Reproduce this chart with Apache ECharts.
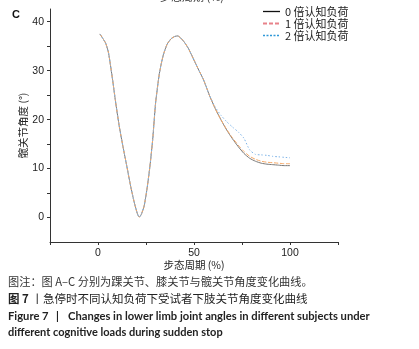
<!DOCTYPE html>
<html>
<head>
<meta charset="utf-8">
<script src="https://cdn.jsdelivr.net/npm/echarts@6/dist/echarts.min.js"></script>
<style>
  html, body { margin: 0; padding: 0; background: #fff; }
  #echart1 { width: 419px; height: 349px; }
</style>
</head>
<body>
<div id="echart1"></div>
<script>
// 步态周期 (%)
var cycle = [1, 2.5, 4, 5.5, 7.5, 9, 11, 13, 15, 17, 19, 20.5, 21.5, 22.5, 24, 25.5, 27, 28.5, 30, 32, 34, 36, 38, 40, 41.5, 43, 45, 47, 49, 52, 55, 58, 61, 64, 67, 70, 73, 76, 79, 82, 85, 88, 91, 94, 97, 100];
// 髋关节角度
var load0 = [37.5, 36.6, 35.6, 33.6, 28.4, 24.1, 18.8, 14.5, 10.5, 6.4, 2.9, 0.8, 0.1, 0.6, 2.3, 5.8, 10.3, 16.0, 23.4, 29.5, 33.2, 35.4, 36.5, 37.0, 37.1, 36.7, 35.8, 34.6, 33.0, 30.5, 28.1, 25.0, 22.3, 20.0, 17.9, 16.1, 14.5, 13.1, 12.1, 11.5, 11.1, 10.9, 10.8, 10.7, 10.6, 10.6];
var load1 = [37.5, 36.6, 35.6, 33.6, 28.4, 24.1, 18.8, 14.5, 10.5, 6.4, 2.9, 0.8, 0.1, 0.6, 2.3, 5.8, 10.3, 16.0, 23.4, 29.5, 33.2, 35.4, 36.5, 37.0, 37.1, 36.7, 35.8, 34.6, 33.0, 30.5, 28.1, 25.0, 22.3, 20.0, 18.0, 16.3, 14.8, 13.5, 12.5, 11.9, 11.5, 11.3, 11.2, 11.1, 11.0, 11.0];
var load2 = [37.5, 36.6, 35.6, 33.6, 28.4, 24.1, 18.8, 14.5, 10.5, 6.4, 2.9, 0.8, 0.1, 0.6, 2.3, 5.8, 10.3, 16.0, 23.4, 29.5, 33.2, 35.4, 36.5, 37.0, 37.1, 36.7, 35.8, 34.6, 33.0, 30.5, 28.1, 25.0, 22.6, 20.9, 19.6, 18.5, 17.5, 16.2, 13.8, 12.9, 12.8, 12.7, 12.5, 12.4, 12.3, 12.2];
var names = ['0 倍认知负荷', '1 倍认知负荷', '2 倍认知负荷'];
var yTicks = [0, 5, 10, 15, 20, 25, 30, 35, 40];
var yLabels = [0, 10, 20, 30, 40];
var xLabels = [0, 50, 100];

function pairs(vals) {
    return cycle.map(function (x, i) { return [x, vals[i]]; });
}

var myChart = echarts.init(document.getElementById('echart1'));
var cjk = '"Noto Sans CJK SC", sans-serif';
var lat = '"Liberation Sans", Arial, sans-serif';

option = {
    animation: false,
    grid: { left: 50, right: 81, top: 9, bottom: 107 },
    legend: {
        orient: 'vertical',
        left: 262,
        top: 6,
        itemWidth: 17,
        itemHeight: 10,
        itemGap: 1,
        padding: 0,
        itemStyle: { opacity: 0 },
        textStyle: { fontFamily: cjk, fontSize: 11, color: '#222' },
        data: [
            { name: names[0], lineStyle: { color: '#111', width: 1.3, type: 'solid' } },
            { name: names[1], lineStyle: { color: '#e8828a', width: 2, type: [4, 2] } },
            { name: names[2], lineStyle: { color: '#2e98d8', width: 1.4, type: [2, 1.5] } }
        ]
    },
    xAxis: {
        type: 'value',
        min: -25,
        max: 125,
        interval: 25,
        name: '步态周期 (%)',
        nameLocation: 'middle',
        nameGap: 18,
        nameMoveOverlap: false,
        nameTextStyle: { fontFamily: cjk, fontSize: 10.5, color: '#222' },
        axisLine: { onZero: false, lineStyle: { color: '#333', width: 1 } },
        axisTick: { length: 3, lineStyle: { color: '#333' } },
        axisLabel: {
            customValues: xLabels,
            margin: 6,
            fontFamily: lat, fontSize: 10.5, color: '#222'
        },
        splitLine: { show: false }
    },
    yAxis: {
        type: 'value',
        min: -5,
        max: 42.6,
        interval: 5,
        name: '髋关节角度 (°)',
        nameLocation: 'middle',
        nameGap: 22,
        nameMoveOverlap: false,
        nameTextStyle: { fontFamily: cjk, fontSize: 10.5, color: '#222' },
        axisLine: { show: true, onZero: false, lineStyle: { color: '#333', width: 1 } },
        axisTick: { show: true, customValues: yTicks, length: 3, lineStyle: { color: '#333' } },
        axisLabel: {
            customValues: yLabels,
            margin: 6,
            fontFamily: lat, fontSize: 10.5, color: '#222'
        },
        splitLine: { show: false }
    },
    series: [
        {
            name: names[0], type: 'line', data: pairs(load0), symbol: 'none', smooth: 0.2,
            lineStyle: { color: '#777', width: 1 }, itemStyle: { color: '#111' }
        },
        {
            name: names[1], type: 'line', data: pairs(load1), symbol: 'none', smooth: 0.2,
            lineStyle: { color: '#f5a867', width: 1, type: [4, 2] }, itemStyle: { color: '#e8828a' }
        },
        {
            name: names[2], type: 'line', data: pairs(load2), symbol: 'none', smooth: 0.2,
            lineStyle: { color: '#7fb4e8', width: 1, type: [1.5, 2] }, itemStyle: { color: '#2e98d8' }
        }
    ],
    graphic: [
        { type: 'text', left: 160, top: -9, style: { text: '步态周期 (%)', fontFamily: cjk, fontSize: 11, fill: '#333' } },
        { type: 'text', left: 12, top: 9, style: { text: 'C', fontFamily: lat, fontWeight: 'bold', fontSize: 11, fill: '#111' } },
        { type: 'text', left: 8, top: 276, style: { text: '图注：图 A–C 分别为踝关节、膝关节与髋关节角度变化曲线。', fontFamily: cjk, fontSize: 11.2, fill: '#333' } },
        { type: 'text', left: 8, top: 293, style: {
            text: '{b|图 7} 丨急停时不同认知负荷下受试者下肢关节角度变化曲线',
            fontFamily: cjk, fontSize: 11.5, fill: '#222',
            rich: { b: { fontFamily: cjk, fontSize: 11.5, fontWeight: 'bold', fill: '#222' } }
        } },
        { type: 'text', left: 8, top: 311, style: { text: 'Figure 7', fontFamily: 'Lato, sans-serif', fontWeight: 'bold', fontSize: 11.2, fill: '#222' } },
        { type: 'text', left: 56, top: 311, style: { text: '|', fontFamily: 'Lato, sans-serif', fontWeight: 'bold', fontSize: 11.2, fill: '#222' } },
        { type: 'text', left: 68, top: 311, style: { text: 'Changes in lower limb joint angles in different subjects under', fontFamily: 'Lato, sans-serif', fontWeight: 'bold', fontSize: 11.2, fill: '#222' } },
        { type: 'text', left: 8, top: 327, style: { text: 'different cognitive loads during sudden stop', fontFamily: 'Lato, sans-serif', fontWeight: 'bold', fontSize: 11, fill: '#222' } }
    ]
};

myChart.setOption(option);
window.addEventListener("resize", function () {
    myChart.resize();
});
</script>
</body>
</html>
